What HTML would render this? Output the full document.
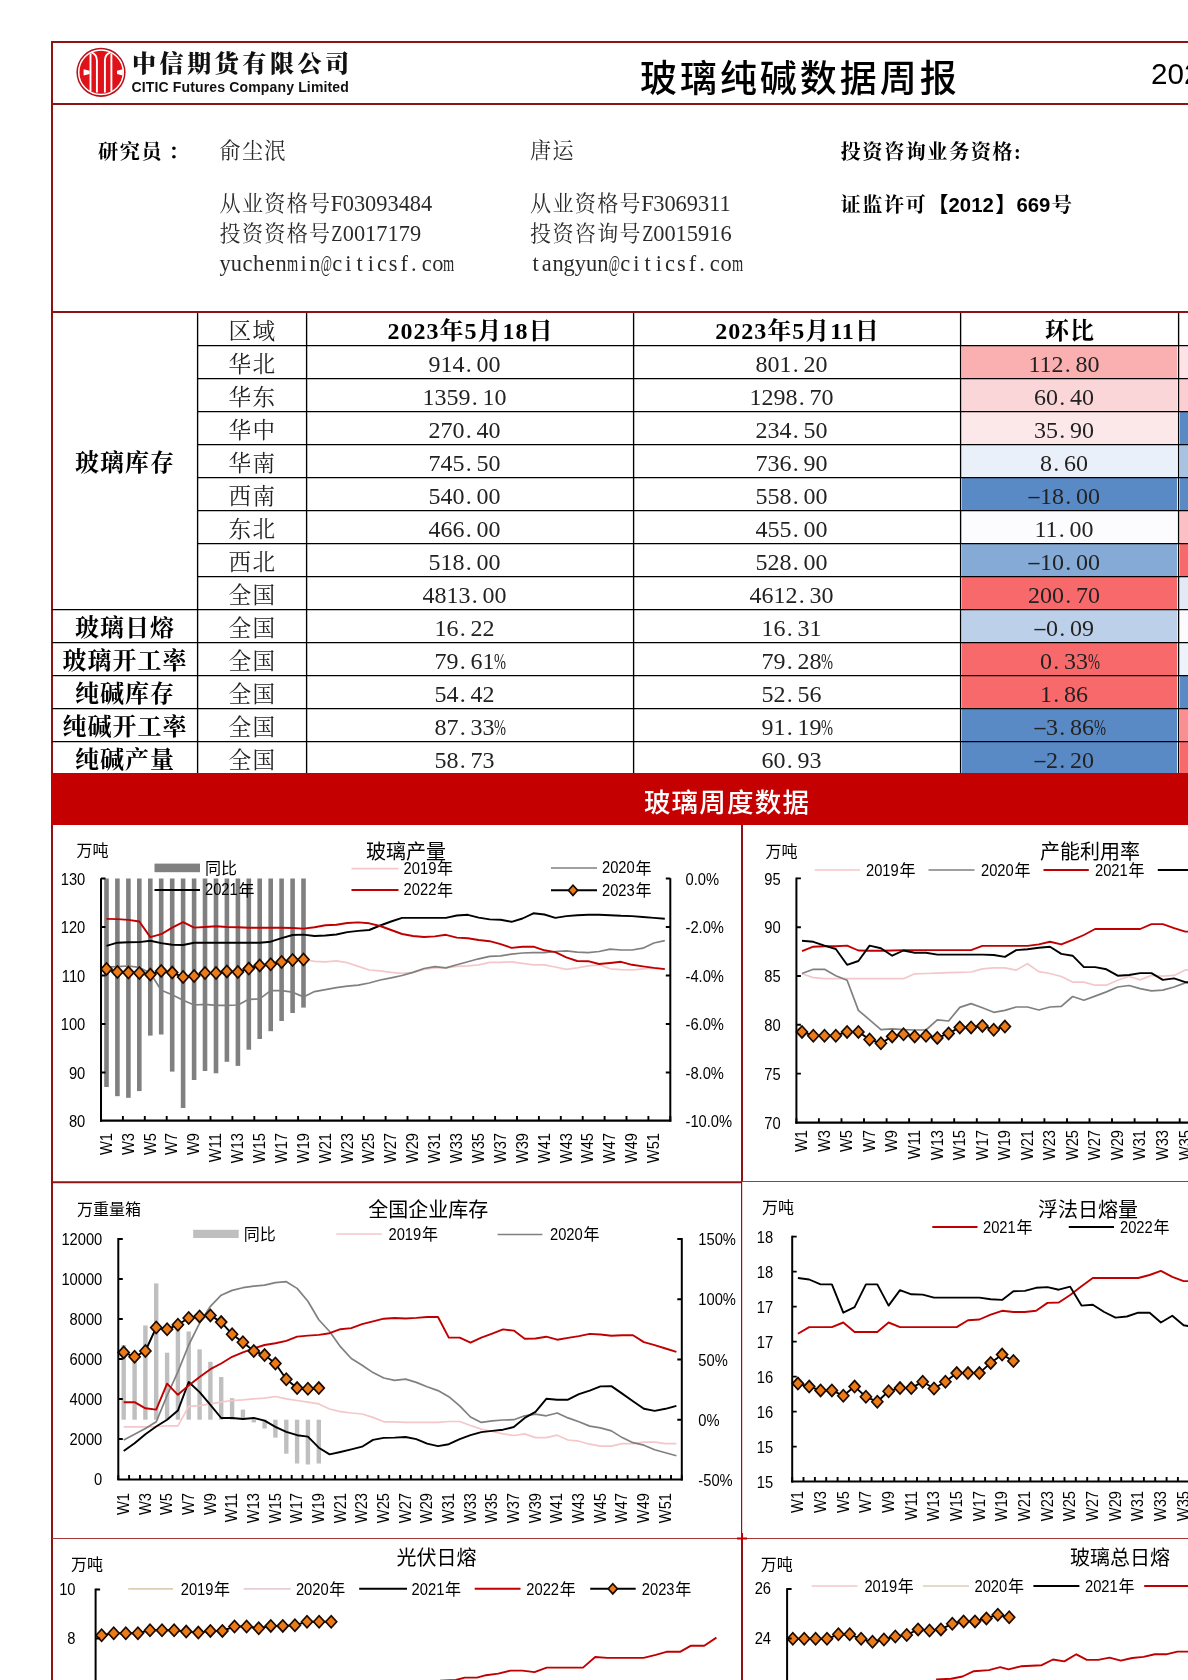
<!DOCTYPE html>
<html lang="zh-CN"><head><meta charset="utf-8"><title>玻璃纯碱数据周报</title>
<style>
html,body{margin:0;padding:0;background:#fff}
#page{will-change:transform;position:relative;width:1188px;height:1680px;overflow:hidden;background:#fff;font-family:"Liberation Serif","Noto Serif CJK SC",serif;color:#000}
.abs{position:absolute;white-space:nowrap}
.ln{position:absolute;background:#8E1414}
.bk{position:absolute;background:#000}
i{font-style:normal}
u{text-decoration:none}
.ir u,.tr u{font-size:.94em;letter-spacing:.064em;position:relative;top:-.01em}
i.sq{display:inline-block}
i.dp{margin:0 .2em 0 .05em}
i.mn{display:inline-block;margin:0 .0835em;transform:scale(1.8,.8)}
.cn{font-family:"Noto Serif CJK SC",serif;font-weight:900;font-size:24px;letter-spacing:3.6px;line-height:36px;color:#111}
.en{font-family:"Liberation Sans",sans-serif;font-weight:bold;font-size:14px;letter-spacing:0.15px;line-height:20px;color:#111}
.ttl{font-family:"Liberation Sans","Noto Sans CJK SC",sans-serif;font-size:37px;letter-spacing:2.95px;line-height:52px;color:#000;font-weight:500}
.dt{font-family:"Liberation Sans","Noto Sans CJK SC",sans-serif;font-size:29.6px;line-height:36px}
.ir{font-size:22.4px;line-height:30px;color:#2a2a2a;font-weight:400}
.ib{font-family:"Liberation Serif","Noto Serif CJK SC",serif;font-size:20.2px;line-height:30px;font-weight:700;color:#000;letter-spacing:1.5px}
.ab{font-family:"Liberation Sans",sans-serif;font-weight:bold;font-size:20.3px;letter-spacing:0;margin-right:1.5px}
.tr{font-size:24px;line-height:32px;text-align:center;color:#222}
.tb{font-size:24px;line-height:32px;text-align:center;font-weight:700;letter-spacing:1px;color:#000}
.bk2{font-family:"Noto Sans CJK SC",sans-serif;font-weight:700;letter-spacing:0;font-size:21.3px}
.bn{font-family:"Liberation Sans","Noto Sans CJK SC",sans-serif;font-weight:500;font-size:26.5px;letter-spacing:1.2px;line-height:36px;color:#fff;text-align:center}
svg text{font-family:"Liberation Sans","Noto Sans CJK SC",sans-serif}
</style></head>
<body><div id="page">
<div class="ln" style="left:51px;top:41px;width:1137px;height:2px"></div>
<div class="ln" style="left:51px;top:41px;width:2px;height:1639px"></div>
<div class="ln" style="left:51px;top:103px;width:1137px;height:2px"></div>
<div class="ln" style="left:51px;top:311px;width:1137px;height:2px"></div>
<svg class="abs" style="left:74px;top:45px" width="54" height="54" viewBox="74 45 54 54">
<circle cx="101" cy="72.3" r="24.6" fill="#B5121B"/><circle cx="101" cy="72.3" r="23" fill="#DE1218"/>
<circle cx="101" cy="72.3" r="22.3" fill="none" stroke="#fff" stroke-width="1.5"/>
<g fill="none" stroke="#fff" stroke-width="1.9">
<path d="M90.5 53.5V91.2"/><path d="M111.4 53.5V91.2"/>
<path d="M91.6 52.4Q96.9 54.5 96.9 60.5V92.6"/><path d="M110.2 52.4Q104.9 54.5 104.9 60.5V92.6"/>
</g>
<path d="M83.6 69.2L89.6 70.8V74L83.6 75.6Z" fill="#fff"/><path d="M122.8 69.2L117 70.8V74L122.8 75.6Z" fill="#fff"/>
</svg>
<div class="abs cn" style="left:132px;top:43.8px">中信期货有限公司</div>
<div class="abs en" style="left:131.5px;top:77px">CITIC Futures Company Limited</div>
<div class="abs ttl" style="left:640px;top:53.6px">玻璃纯碱数据周报</div>
<div class="abs dt" style="left:1151px;top:55.5px">2023</div>
<div class="abs ib" style="left:98px;top:136.7px">研究员<span style="margin-left:5.5px">：</span></div>
<div class="abs ir" style="left:219.5px;top:136px"><u>俞尘泯</u></div>
<div class="abs ir" style="left:219.5px;top:189px"><u>从业资格号</u><i style="margin:0 -0.0281em">F</i>03093484</div>
<div class="abs ir" style="left:219.5px;top:219px"><u>投资资格号</u><i class="sq" style="margin:0 -0.0554em;transform:scaleX(0.819)">Z</i>0017179</div>
<div class="abs ir" style="left:219.5px;top:249px"><i style="margin:0 0.0000em">y</i><i style="margin:0 0.0000em">u</i><i style="margin:0 0.0281em">c</i><i style="margin:0 0.0000em">h</i><i style="margin:0 0.0281em">e</i><i style="margin:0 0.0000em">n</i><i class="sq" style="margin:0 -0.1389em;transform:scaleX(0.643)">m</i><i style="margin:0 0.1111em">i</i><i style="margin:0 0.0000em">n</i><i class="sq" style="margin:0 -0.2105em;transform:scaleX(0.543)">@</i><i style="margin:0 0.0281em">c</i><i style="margin:0 0.1111em">i</i><i style="margin:0 0.1111em">t</i><i style="margin:0 0.1111em">i</i><i style="margin:0 0.0281em">c</i><i style="margin:0 0.0554em">s</i><i style="margin:0 0.0835em">f</i><i class="dp">.</i><i style="margin:0 0.0281em">c</i><i style="margin:0 0.0000em">o</i><i class="sq" style="margin:0 -0.1389em;transform:scaleX(0.643)">m</i></div>
<div class="abs ir" style="left:530px;top:136px"><u>唐运</u></div>
<div class="abs ir" style="left:530px;top:189px"><u>从业资格号</u><i style="margin:0 -0.0281em">F</i>3069311</div>
<div class="abs ir" style="left:530px;top:219px"><u>投资咨询号</u><i class="sq" style="margin:0 -0.0554em;transform:scaleX(0.819)">Z</i>0015916</div>
<div class="abs ir" style="left:530px;top:249px"><i style="margin:0 0.1111em">t</i><i style="margin:0 0.0281em">a</i><i style="margin:0 0.0000em">n</i><i style="margin:0 0.0000em">g</i><i style="margin:0 0.0000em">y</i><i style="margin:0 0.0000em">u</i><i style="margin:0 0.0000em">n</i><i class="sq" style="margin:0 -0.2105em;transform:scaleX(0.543)">@</i><i style="margin:0 0.0281em">c</i><i style="margin:0 0.1111em">i</i><i style="margin:0 0.1111em">t</i><i style="margin:0 0.1111em">i</i><i style="margin:0 0.0281em">c</i><i style="margin:0 0.0554em">s</i><i style="margin:0 0.0835em">f</i><i class="dp">.</i><i style="margin:0 0.0281em">c</i><i style="margin:0 0.0000em">o</i><i class="sq" style="margin:0 -0.1389em;transform:scaleX(0.643)">m</i></div>
<div class="abs ib" style="left:840.5px;top:136.7px">投资咨询业务资格:</div>
<div class="abs ib" style="left:840.5px;top:188px">证监许可<span class="bk2">【</span><span class="ab">2012</span><span class="bk2">】</span><span class="ab">669</span>号</div>
<div class="abs" style="left:962px;top:345.5px;width:215px;height:33.0px;background:#FAAFB1"></div>
<div class="abs" style="left:1180px;top:345.5px;width:8px;height:33.0px;background:#FDE3E5"></div>
<div class="abs" style="left:962px;top:378.5px;width:215px;height:33.0px;background:#FBD6D8"></div>
<div class="abs" style="left:1180px;top:378.5px;width:8px;height:33.0px;background:#FBCFD1"></div>
<div class="abs" style="left:962px;top:411.5px;width:215px;height:33.0px;background:#FCE7E9"></div>
<div class="abs" style="left:1180px;top:411.5px;width:8px;height:33.0px;background:#5A8AC6"></div>
<div class="abs" style="left:962px;top:444.5px;width:215px;height:33.0px;background:#EAF0F9"></div>
<div class="abs" style="left:1180px;top:444.5px;width:8px;height:33.0px;background:#A9C2E2"></div>
<div class="abs" style="left:962px;top:477.5px;width:215px;height:33.0px;background:#5A8AC6"></div>
<div class="abs" style="left:1180px;top:477.5px;width:8px;height:33.0px;background:#5A8AC6"></div>
<div class="abs" style="left:962px;top:510.5px;width:215px;height:33.0px;background:#FCFCFF"></div>
<div class="abs" style="left:1180px;top:510.5px;width:8px;height:33.0px;background:#FBC0C3"></div>
<div class="abs" style="left:962px;top:543.5px;width:215px;height:33.0px;background:#86AAD6"></div>
<div class="abs" style="left:1180px;top:543.5px;width:8px;height:33.0px;background:#F8696B"></div>
<div class="abs" style="left:962px;top:576.5px;width:215px;height:33.0px;background:#F8696B"></div>
<div class="abs" style="left:1180px;top:576.5px;width:8px;height:33.0px;background:#E3EAF6"></div>
<div class="abs" style="left:962px;top:609.5px;width:215px;height:33.0px;background:#BDD0E9"></div>
<div class="abs" style="left:1180px;top:609.5px;width:8px;height:33.0px;background:#FCFCFF"></div>
<div class="abs" style="left:962px;top:642.5px;width:215px;height:33.0px;background:#F8696B"></div>
<div class="abs" style="left:1180px;top:642.5px;width:8px;height:33.0px;background:#EEF2FA"></div>
<div class="abs" style="left:962px;top:675.5px;width:215px;height:33.0px;background:#F8696B"></div>
<div class="abs" style="left:1180px;top:675.5px;width:8px;height:33.0px;background:#5A8AC6"></div>
<div class="abs" style="left:962px;top:708.5px;width:215px;height:33.0px;background:#5A8AC6"></div>
<div class="abs" style="left:1180px;top:708.5px;width:8px;height:33.0px;background:#F98F91"></div>
<div class="abs" style="left:962px;top:741.5px;width:215px;height:33.0px;background:#5A8AC6"></div>
<div class="abs" style="left:1180px;top:741.5px;width:8px;height:33.0px;background:#F8696B"></div>
<svg class="abs" style="left:0;top:0" width="1188" height="800" viewBox="0 0 1188 800"><path d="M197.6 313V774M306.6 313V774M633.6 313V774M960.6 313V774M1178.6 313V774M197 345.65H1188M197 378.65H1188M197 411.65H1188M197 444.65H1188M197 477.65H1188M197 510.65H1188M197 543.65H1188M197 576.65H1188M52 609.65H1188M52 642.65H1188M52 675.65H1188M52 708.65H1188M52 741.65H1188" stroke="#000" stroke-width="1.35" fill="none"/></svg>
<div class="abs tb" style="left:52px;width:146px;top:446.5px">玻璃库存</div>
<div class="abs tb" style="left:52px;width:146px;top:611.5px">玻璃日熔</div>
<div class="abs tb" style="left:52px;width:146px;top:644.5px">玻璃开工率</div>
<div class="abs tb" style="left:52px;width:146px;top:677.5px">纯碱库存</div>
<div class="abs tb" style="left:52px;width:146px;top:710.5px">纯碱开工率</div>
<div class="abs tb" style="left:52px;width:146px;top:743.5px">纯碱产量</div>
<div class="abs tr" style="left:198px;width:109px;top:314.9px"><u>区域</u></div>
<div class="abs tb" style="left:307px;width:327px;top:314.5px">2023年5月18日</div>
<div class="abs tb" style="left:634px;width:327px;top:314.5px">2023年5月11日</div>
<div class="abs tb" style="left:961px;width:218px;top:314.5px">环比</div>
<div class="abs tr" style="left:198px;width:109px;top:347.9px"><u>华北</u></div>
<div class="abs tr" style="left:301px;width:327px;top:347.5px">914<i class="dp">.</i>00</div>
<div class="abs tr" style="left:628px;width:327px;top:347.5px">801<i class="dp">.</i>20</div>
<div class="abs tr" style="left:955px;width:218px;top:347.5px">112<i class="dp">.</i>80</div>
<div class="abs tr" style="left:198px;width:109px;top:380.9px"><u>华东</u></div>
<div class="abs tr" style="left:301px;width:327px;top:380.5px">1359<i class="dp">.</i>10</div>
<div class="abs tr" style="left:628px;width:327px;top:380.5px">1298<i class="dp">.</i>70</div>
<div class="abs tr" style="left:955px;width:218px;top:380.5px">60<i class="dp">.</i>40</div>
<div class="abs tr" style="left:198px;width:109px;top:413.9px"><u>华中</u></div>
<div class="abs tr" style="left:301px;width:327px;top:413.5px">270<i class="dp">.</i>40</div>
<div class="abs tr" style="left:628px;width:327px;top:413.5px">234<i class="dp">.</i>50</div>
<div class="abs tr" style="left:955px;width:218px;top:413.5px">35<i class="dp">.</i>90</div>
<div class="abs tr" style="left:198px;width:109px;top:446.9px"><u>华南</u></div>
<div class="abs tr" style="left:301px;width:327px;top:446.5px">745<i class="dp">.</i>50</div>
<div class="abs tr" style="left:628px;width:327px;top:446.5px">736<i class="dp">.</i>90</div>
<div class="abs tr" style="left:955px;width:218px;top:446.5px">8<i class="dp">.</i>60</div>
<div class="abs tr" style="left:198px;width:109px;top:479.9px"><u>西南</u></div>
<div class="abs tr" style="left:301px;width:327px;top:479.5px">540<i class="dp">.</i>00</div>
<div class="abs tr" style="left:628px;width:327px;top:479.5px">558<i class="dp">.</i>00</div>
<div class="abs tr" style="left:955px;width:218px;top:479.5px"><i class="mn">-</i>18<i class="dp">.</i>00</div>
<div class="abs tr" style="left:198px;width:109px;top:512.9px"><u>东北</u></div>
<div class="abs tr" style="left:301px;width:327px;top:512.5px">466<i class="dp">.</i>00</div>
<div class="abs tr" style="left:628px;width:327px;top:512.5px">455<i class="dp">.</i>00</div>
<div class="abs tr" style="left:955px;width:218px;top:512.5px">11<i class="dp">.</i>00</div>
<div class="abs tr" style="left:198px;width:109px;top:545.9px"><u>西北</u></div>
<div class="abs tr" style="left:301px;width:327px;top:545.5px">518<i class="dp">.</i>00</div>
<div class="abs tr" style="left:628px;width:327px;top:545.5px">528<i class="dp">.</i>00</div>
<div class="abs tr" style="left:955px;width:218px;top:545.5px"><i class="mn">-</i>10<i class="dp">.</i>00</div>
<div class="abs tr" style="left:198px;width:109px;top:578.9px"><u>全国</u></div>
<div class="abs tr" style="left:301px;width:327px;top:578.5px">4813<i class="dp">.</i>00</div>
<div class="abs tr" style="left:628px;width:327px;top:578.5px">4612<i class="dp">.</i>30</div>
<div class="abs tr" style="left:955px;width:218px;top:578.5px">200<i class="dp">.</i>70</div>
<div class="abs tr" style="left:198px;width:109px;top:611.9px"><u>全国</u></div>
<div class="abs tr" style="left:301px;width:327px;top:611.5px">16<i class="dp">.</i>22</div>
<div class="abs tr" style="left:628px;width:327px;top:611.5px">16<i class="dp">.</i>31</div>
<div class="abs tr" style="left:955px;width:218px;top:611.5px"><i class="mn">-</i>0<i class="dp">.</i>09</div>
<div class="abs tr" style="left:198px;width:109px;top:644.9px"><u>全国</u></div>
<div class="abs tr" style="left:307px;width:327px;top:644.5px">79<i class="dp">.</i>61<i class="sq" style="margin:0 -0.1665em;transform:scaleX(0.600)">%</i></div>
<div class="abs tr" style="left:634px;width:327px;top:644.5px">79<i class="dp">.</i>28<i class="sq" style="margin:0 -0.1665em;transform:scaleX(0.600)">%</i></div>
<div class="abs tr" style="left:961px;width:218px;top:644.5px">0<i class="dp">.</i>33<i class="sq" style="margin:0 -0.1665em;transform:scaleX(0.600)">%</i></div>
<div class="abs tr" style="left:198px;width:109px;top:677.9px"><u>全国</u></div>
<div class="abs tr" style="left:301px;width:327px;top:677.5px">54<i class="dp">.</i>42</div>
<div class="abs tr" style="left:628px;width:327px;top:677.5px">52<i class="dp">.</i>56</div>
<div class="abs tr" style="left:955px;width:218px;top:677.5px">1<i class="dp">.</i>86</div>
<div class="abs tr" style="left:198px;width:109px;top:710.9px"><u>全国</u></div>
<div class="abs tr" style="left:307px;width:327px;top:710.5px">87<i class="dp">.</i>33<i class="sq" style="margin:0 -0.1665em;transform:scaleX(0.600)">%</i></div>
<div class="abs tr" style="left:634px;width:327px;top:710.5px">91<i class="dp">.</i>19<i class="sq" style="margin:0 -0.1665em;transform:scaleX(0.600)">%</i></div>
<div class="abs tr" style="left:961px;width:218px;top:710.5px"><i class="mn">-</i>3<i class="dp">.</i>86<i class="sq" style="margin:0 -0.1665em;transform:scaleX(0.600)">%</i></div>
<div class="abs tr" style="left:198px;width:109px;top:743.9px"><u>全国</u></div>
<div class="abs tr" style="left:301px;width:327px;top:743.5px">58<i class="dp">.</i>73</div>
<div class="abs tr" style="left:628px;width:327px;top:743.5px">60<i class="dp">.</i>93</div>
<div class="abs tr" style="left:955px;width:218px;top:743.5px"><i class="mn">-</i>2<i class="dp">.</i>20</div>
<div class="abs" style="left:51px;top:773px;width:1137px;height:52px;background:#C50000"></div>
<div class="abs bn" style="left:54px;width:1346px;top:785.3px">玻璃周度数据</div>
<svg class="abs" style="left:0;top:0" width="1188" height="1680" viewBox="0 0 1188 1680">
<path d="M742 825V1181.5" stroke="#8E1414" stroke-width="2"/>
<path d="M741.6 1181V1538" stroke="#8E1414" stroke-width="1.2"/>
<path d="M742 1538V1680" stroke="#8E1414" stroke-width="2"/>
<path d="M52 1182.2H742" stroke="#8E1414" stroke-width="1.9"/>
<path d="M742 1181.5H1188" stroke="#A83838" stroke-width="1.2"/>
<path d="M52 1538.5H1188" stroke="#A83838" stroke-width="1.2"/>
<path d="M737 1538.5H747M742 1533V1544" stroke="#C00000" stroke-width="2"/>
<g fill="#808080"><rect x="104.2" y="878.5" width="4.6" height="208.5"/><rect x="115.1" y="878.5" width="4.6" height="217.7"/><rect x="126.1" y="878.5" width="4.6" height="219.3"/><rect x="137.0" y="878.5" width="4.6" height="212.6"/><rect x="148.0" y="878.5" width="4.6" height="157.1"/><rect x="158.9" y="878.5" width="4.6" height="156.0"/><rect x="169.9" y="878.5" width="4.6" height="193.1"/><rect x="180.8" y="878.5" width="4.6" height="229.5"/><rect x="191.8" y="878.5" width="4.6" height="201.5"/><rect x="202.7" y="878.5" width="4.6" height="192.5"/><rect x="213.7" y="878.5" width="4.6" height="194.8"/><rect x="224.6" y="878.5" width="4.6" height="183.3"/><rect x="235.6" y="878.5" width="4.6" height="187.4"/><rect x="246.5" y="878.5" width="4.6" height="171.2"/><rect x="257.4" y="878.5" width="4.6" height="160.5"/><rect x="268.4" y="878.5" width="4.6" height="152.7"/><rect x="279.3" y="878.5" width="4.6" height="142.5"/><rect x="290.3" y="878.5" width="4.6" height="134.5"/><rect x="301.2" y="878.5" width="4.6" height="129.1"/></g>
<polyline points="106.5,969.0 117.4,972.0 128.4,972.6 139.3,973.0 150.3,974.6 161.2,971.0 172.2,972.6 183.1,977.0 194.1,976.0 205.0,973.0 216.0,973.0 226.9,971.4 237.9,972.0 248.8,968.6 259.7,965.4 270.7,964.3 281.6,962.0 292.6,960.0 303.5,959.5 314.5,961.3 325.4,961.8 336.4,960.9 347.3,962.7 358.3,966.4 369.2,970.0 380.2,970.9 391.1,972.4 402.1,973.3 413.0,972.4 424.0,969.4 434.9,967.9 445.9,967.9 456.8,966.4 467.8,965.8 478.7,964.8 489.7,962.4 500.6,962.4 511.6,961.8 522.5,963.3 533.4,964.8 544.4,964.8 555.3,967.0 566.3,969.4 577.2,967.9 588.2,965.8 599.1,964.8 610.1,968.8 621.0,969.7 632.0,970.0 642.9,968.8 653.9,968.2 664.8,968.8" fill="none" stroke="#F4C7C9" stroke-width="1.70" stroke-linejoin="round"/>
<polyline points="106.5,967.0 117.4,966.6 128.4,966.0 139.3,967.4 150.3,973.0 161.2,990.2 172.2,994.8 183.1,1000.3 194.1,1005.0 205.0,1004.3 216.0,1005.4 226.9,1005.4 237.9,1005.0 248.8,999.3 259.7,998.9 270.7,990.6 281.6,990.6 292.6,992.2 303.5,996.9 314.5,991.6 325.4,989.7 336.4,987.6 347.3,986.1 358.3,985.2 369.2,983.0 380.2,980.0 391.1,977.9 402.1,975.5 413.0,972.4 424.0,968.5 434.9,966.7 445.9,967.9 456.8,964.8 467.8,961.8 478.7,958.8 489.7,956.4 500.6,955.8 511.6,954.2 522.5,953.0 533.4,952.7 544.4,952.7 555.3,951.5 566.3,950.9 577.2,952.1 588.2,952.7 599.1,951.5 610.1,949.1 621.0,950.0 632.0,950.0 642.9,948.2 653.9,943.0 664.8,940.6" fill="none" stroke="#808080" stroke-width="1.70" stroke-linejoin="round"/>
<polyline points="106.5,945.8 117.4,942.7 128.4,942.3 139.3,942.1 150.3,940.7 161.2,943.1 172.2,944.7 183.1,945.0 194.1,942.7 205.0,942.7 216.0,942.7 226.9,942.7 237.9,942.7 248.8,942.7 259.7,942.7 270.7,941.7 281.6,938.1 292.6,935.0 303.5,934.6 314.5,936.0 325.4,935.5 336.4,934.5 347.3,932.1 358.3,930.9 369.2,930.0 380.2,925.5 391.1,921.5 402.1,917.9 413.0,917.9 424.0,917.9 434.9,917.9 445.9,917.9 456.8,915.5 467.8,914.8 478.7,917.6 489.7,919.4 500.6,919.7 511.6,921.8 522.5,918.5 533.4,913.3 544.4,914.5 555.3,917.9 566.3,916.1 577.2,915.2 588.2,914.8 599.1,914.8 610.1,915.2 621.0,915.8 632.0,916.1 642.9,917.0 653.9,917.9 664.8,918.8" fill="none" stroke="#000" stroke-width="1.90" stroke-linejoin="round"/>
<polyline points="106.5,918.9 117.4,919.1 128.4,919.9 139.3,921.5 150.3,937.1 161.2,934.2 172.2,927.6 183.1,922.1 194.1,927.6 205.0,927.0 216.0,926.2 226.9,927.0 237.9,927.2 248.8,927.8 259.7,927.8 270.7,927.8 281.6,927.8 292.6,928.0 303.5,928.6 314.5,927.2 325.4,925.3 336.4,924.8 347.3,923.0 358.3,922.4 369.2,923.3 380.2,926.0 391.1,930.0 402.1,934.0 413.0,936.0 424.0,937.0 434.9,936.4 445.9,934.8 456.8,937.6 467.8,938.2 478.7,940.0 489.7,941.2 500.6,944.2 511.6,947.9 522.5,946.7 533.4,946.7 544.4,950.3 555.3,952.1 566.3,957.3 577.2,961.0 588.2,961.2 599.1,964.0 610.1,963.0 621.0,961.8 632.0,964.8 642.9,966.4 653.9,967.9 664.8,969.1" fill="none" stroke="#C00000" stroke-width="1.90" stroke-linejoin="round"/>
<polyline points="106.5,969.0 117.4,972.0 128.4,972.6 139.3,973.0 150.3,974.6 161.2,971.0 172.2,972.6 183.1,977.0 194.1,976.0 205.0,973.0 216.0,973.0 226.9,971.4 237.9,972.0 248.8,968.6 259.7,965.4 270.7,964.3 281.6,962.0 292.6,960.0 303.5,959.5" fill="none" stroke="#000" stroke-width="1.90" stroke-linejoin="round"/>
<g fill="#EB7B19" stroke="#1a0a00" stroke-width="1.7" stroke-linejoin="miter"><path d="M101.0 969.0L106.5 963.0L112.0 969.0L106.5 975.0Z"/><path d="M111.9 972.0L117.4 966.0L122.9 972.0L117.4 978.0Z"/><path d="M122.9 972.6L128.4 966.6L133.9 972.6L128.4 978.6Z"/><path d="M133.8 973.0L139.3 967.0L144.8 973.0L139.3 979.0Z"/><path d="M144.8 974.6L150.3 968.6L155.8 974.6L150.3 980.6Z"/><path d="M155.7 971.0L161.2 965.0L166.7 971.0L161.2 977.0Z"/><path d="M166.7 972.6L172.2 966.6L177.7 972.6L172.2 978.6Z"/><path d="M177.6 977.0L183.1 971.0L188.6 977.0L183.1 983.0Z"/><path d="M188.6 976.0L194.1 970.0L199.6 976.0L194.1 982.0Z"/><path d="M199.5 973.0L205.0 967.0L210.5 973.0L205.0 979.0Z"/><path d="M210.5 973.0L216.0 967.0L221.5 973.0L216.0 979.0Z"/><path d="M221.4 971.4L226.9 965.4L232.4 971.4L226.9 977.4Z"/><path d="M232.4 972.0L237.9 966.0L243.4 972.0L237.9 978.0Z"/><path d="M243.3 968.6L248.8 962.6L254.3 968.6L248.8 974.6Z"/><path d="M254.2 965.4L259.7 959.4L265.2 965.4L259.7 971.4Z"/><path d="M265.2 964.3L270.7 958.3L276.2 964.3L270.7 970.3Z"/><path d="M276.1 962.0L281.6 956.0L287.1 962.0L281.6 968.0Z"/><path d="M287.1 960.0L292.6 954.0L298.1 960.0L292.6 966.0Z"/><path d="M298.0 959.5L303.5 953.5L309.0 959.5L303.5 965.5Z"/></g>
<path d="M101.0 878.2L101.0 1121.7" stroke="#000" stroke-width="2.00" fill="none"/>
<path d="M100.0 1120.6L671.3 1120.6" stroke="#000" stroke-width="2.30" fill="none"/>
<path d="M670.3 878.2L670.3 1121.7" stroke="#000" stroke-width="2.00" fill="none"/>
<path d="M101.0 878.5h4.5M101.0 927.0h4.5M101.0 975.5h4.5M101.0 1024.0h4.5M101.0 1072.5h4.5" stroke="#000" stroke-width="1.9" fill="none"/>
<path d="M670.3 878.5h-4.5M670.3 927.0h-4.5M670.3 975.5h-4.5M670.3 1024.0h-4.5M670.3 1072.5h-4.5" stroke="#000" stroke-width="1.9" fill="none"/>
<path d="M101.0 1120.6v-4.5M122.9 1120.6v-4.5M144.8 1120.6v-4.5M166.7 1120.6v-4.5M188.6 1120.6v-4.5M210.5 1120.6v-4.5M232.4 1120.6v-4.5M254.3 1120.6v-4.5M276.2 1120.6v-4.5M298.1 1120.6v-4.5M320.0 1120.6v-4.5M341.9 1120.6v-4.5M363.8 1120.6v-4.5M385.6 1120.6v-4.5M407.5 1120.6v-4.5M429.4 1120.6v-4.5M451.3 1120.6v-4.5M473.2 1120.6v-4.5M495.1 1120.6v-4.5M517.0 1120.6v-4.5M538.9 1120.6v-4.5M560.8 1120.6v-4.5M582.7 1120.6v-4.5M604.6 1120.6v-4.5M626.5 1120.6v-4.5M648.4 1120.6v-4.5M670.3 1120.6v-4.5" stroke="#000" stroke-width="1.9" fill="none"/>
<text transform="translate(85.3 884.7) scale(0.92 1)" font-size="16.0" text-anchor="end" fill="#000">130</text>
<text transform="translate(85.3 933.2) scale(0.92 1)" font-size="16.0" text-anchor="end" fill="#000">120</text>
<text transform="translate(85.3 981.7) scale(0.92 1)" font-size="16.0" text-anchor="end" fill="#000">110</text>
<text transform="translate(85.3 1030.2) scale(0.92 1)" font-size="16.0" text-anchor="end" fill="#000">100</text>
<text transform="translate(85.3 1078.7) scale(0.92 1)" font-size="16.0" text-anchor="end" fill="#000">90</text>
<text transform="translate(85.3 1127.2) scale(0.92 1)" font-size="16.0" text-anchor="end" fill="#000">80</text>
<text transform="translate(685.5 884.7) scale(0.92 1)" font-size="16.0" text-anchor="start" fill="#000">0.0%</text>
<text transform="translate(685.5 933.2) scale(0.92 1)" font-size="16.0" text-anchor="start" fill="#000">-2.0%</text>
<text transform="translate(685.5 981.7) scale(0.92 1)" font-size="16.0" text-anchor="start" fill="#000">-4.0%</text>
<text transform="translate(685.5 1030.2) scale(0.92 1)" font-size="16.0" text-anchor="start" fill="#000">-6.0%</text>
<text transform="translate(685.5 1078.7) scale(0.92 1)" font-size="16.0" text-anchor="start" fill="#000">-8.0%</text>
<text transform="translate(685.5 1127.2) scale(0.92 1)" font-size="16.0" text-anchor="start" fill="#000">-10.0%</text>
<text transform="translate(111.7 1133.0) rotate(-90) scale(0.92 1)" font-size="16.0" text-anchor="end" fill="#000">W1</text><text transform="translate(133.6 1133.0) rotate(-90) scale(0.92 1)" font-size="16.0" text-anchor="end" fill="#000">W3</text><text transform="translate(155.5 1133.0) rotate(-90) scale(0.92 1)" font-size="16.0" text-anchor="end" fill="#000">W5</text><text transform="translate(177.4 1133.0) rotate(-90) scale(0.92 1)" font-size="16.0" text-anchor="end" fill="#000">W7</text><text transform="translate(199.3 1133.0) rotate(-90) scale(0.92 1)" font-size="16.0" text-anchor="end" fill="#000">W9</text><text transform="translate(221.2 1133.0) rotate(-90) scale(0.92 1)" font-size="16.0" text-anchor="end" fill="#000">W11</text><text transform="translate(243.1 1133.0) rotate(-90) scale(0.92 1)" font-size="16.0" text-anchor="end" fill="#000">W13</text><text transform="translate(264.9 1133.0) rotate(-90) scale(0.92 1)" font-size="16.0" text-anchor="end" fill="#000">W15</text><text transform="translate(286.8 1133.0) rotate(-90) scale(0.92 1)" font-size="16.0" text-anchor="end" fill="#000">W17</text><text transform="translate(308.7 1133.0) rotate(-90) scale(0.92 1)" font-size="16.0" text-anchor="end" fill="#000">W19</text><text transform="translate(330.6 1133.0) rotate(-90) scale(0.92 1)" font-size="16.0" text-anchor="end" fill="#000">W21</text><text transform="translate(352.5 1133.0) rotate(-90) scale(0.92 1)" font-size="16.0" text-anchor="end" fill="#000">W23</text><text transform="translate(374.4 1133.0) rotate(-90) scale(0.92 1)" font-size="16.0" text-anchor="end" fill="#000">W25</text><text transform="translate(396.3 1133.0) rotate(-90) scale(0.92 1)" font-size="16.0" text-anchor="end" fill="#000">W27</text><text transform="translate(418.2 1133.0) rotate(-90) scale(0.92 1)" font-size="16.0" text-anchor="end" fill="#000">W29</text><text transform="translate(440.1 1133.0) rotate(-90) scale(0.92 1)" font-size="16.0" text-anchor="end" fill="#000">W31</text><text transform="translate(462.0 1133.0) rotate(-90) scale(0.92 1)" font-size="16.0" text-anchor="end" fill="#000">W33</text><text transform="translate(483.9 1133.0) rotate(-90) scale(0.92 1)" font-size="16.0" text-anchor="end" fill="#000">W35</text><text transform="translate(505.8 1133.0) rotate(-90) scale(0.92 1)" font-size="16.0" text-anchor="end" fill="#000">W37</text><text transform="translate(527.7 1133.0) rotate(-90) scale(0.92 1)" font-size="16.0" text-anchor="end" fill="#000">W39</text><text transform="translate(549.6 1133.0) rotate(-90) scale(0.92 1)" font-size="16.0" text-anchor="end" fill="#000">W41</text><text transform="translate(571.5 1133.0) rotate(-90) scale(0.92 1)" font-size="16.0" text-anchor="end" fill="#000">W43</text><text transform="translate(593.4 1133.0) rotate(-90) scale(0.92 1)" font-size="16.0" text-anchor="end" fill="#000">W45</text><text transform="translate(615.3 1133.0) rotate(-90) scale(0.92 1)" font-size="16.0" text-anchor="end" fill="#000">W47</text><text transform="translate(637.2 1133.0) rotate(-90) scale(0.92 1)" font-size="16.0" text-anchor="end" fill="#000">W49</text><text transform="translate(659.1 1133.0) rotate(-90) scale(0.92 1)" font-size="16.0" text-anchor="end" fill="#000">W51</text>
<text x="76.5" y="856.0" font-size="16.0" text-anchor="start" fill="#000">万吨</text>
<text x="366.0" y="859.0" font-size="20.0" text-anchor="start" fill="#000">玻璃产量</text>
<rect x="154.5" y="863.6" width="45.5" height="8.6" fill="#808080"/>
<text x="205.0" y="874.3" font-size="16.0" text-anchor="start" fill="#000">同比</text>
<path d="M154.5 890.0L200.0 890.0" stroke="#000" stroke-width="1.90" fill="none"/>
<text transform="translate(205.0 895.3) scale(0.92 1)" font-size="16.0" text-anchor="start" fill="#000">2021</text><text x="238.4" y="895.6" font-size="16.0" fill="#000">年</text>
<path d="M351.5 868.6L398.5 868.6" stroke="#F4C7C9" stroke-width="1.70" fill="none"/>
<text transform="translate(403.6 874.0) scale(0.92 1)" font-size="16.0" text-anchor="start" fill="#000">2019</text><text x="437.0" y="874.3" font-size="16.0" fill="#000">年</text>
<path d="M351.5 890.0L398.5 890.0" stroke="#C00000" stroke-width="1.90" fill="none"/>
<text transform="translate(403.6 895.3) scale(0.92 1)" font-size="16.0" text-anchor="start" fill="#000">2022</text><text x="437.0" y="895.6" font-size="16.0" fill="#000">年</text>
<path d="M551.0 868.0L597.0 868.0" stroke="#808080" stroke-width="1.70" fill="none"/>
<text transform="translate(602.0 873.3) scale(0.92 1)" font-size="16.0" text-anchor="start" fill="#000">2020</text><text x="635.4" y="873.6" font-size="16.0" fill="#000">年</text>
<path d="M551.0 890.3L597.0 890.3" stroke="#000" stroke-width="1.90" fill="none"/>
<g fill="#EB7B19" stroke="#1a0a00" stroke-width="1.7" stroke-linejoin="miter"><path d="M568.4 890.3L573.0 885.2L577.6 890.3L573.0 895.4Z"/></g>
<text transform="translate(602.0 895.6) scale(0.92 1)" font-size="16.0" text-anchor="start" fill="#000">2023</text><text x="635.4" y="895.9" font-size="16.0" fill="#000">年</text>
<polyline points="802.0,973.8 813.3,977.6 824.5,978.7 835.8,978.7 847.1,978.7 858.4,978.7 869.6,978.7 880.9,978.7 892.2,978.7 903.5,978.7 914.7,973.8 926.0,973.5 937.3,973.1 948.6,972.7 959.8,972.3 971.1,972.0 982.4,968.9 993.7,967.8 1004.9,967.8 1016.2,970.1 1027.5,963.7 1038.8,971.6 1050.0,973.5 1061.3,976.5 1072.6,982.1 1083.9,982.1 1095.1,985.2 1106.4,985.2 1117.7,980.3 1129.0,976.5 1140.2,979.9 1151.5,975.4 1162.8,976.1 1174.1,975.4 1185.3,970.1 1196.6,969.3" fill="none" stroke="#F4C7C9" stroke-width="1.70" stroke-linejoin="round"/>
<polyline points="802.0,973.5 813.3,969.3 824.5,969.3 835.8,975.7 847.1,980.3 858.4,1010.4 869.6,1019.8 880.9,1029.7 892.2,1028.9 903.5,1029.7 914.7,1030.0 926.0,1030.0 937.3,1019.8 948.6,1021.0 959.8,1007.4 971.1,1003.6 982.4,1007.8 993.7,1012.3 1004.9,1010.4 1016.2,1007.0 1027.5,1007.0 1038.8,1010.0 1050.0,1007.0 1061.3,1006.3 1072.6,996.5 1083.9,1000.2 1095.1,996.1 1106.4,991.9 1117.7,987.0 1129.0,985.5 1140.2,988.6 1151.5,990.8 1162.8,990.1 1174.1,987.0 1185.3,982.9 1196.6,981.4" fill="none" stroke="#808080" stroke-width="1.70" stroke-linejoin="round"/>
<polyline points="802.0,951.2 813.3,946.7 824.5,946.3 835.8,946.3 847.1,945.6 858.4,950.5 869.6,950.8 880.9,950.8 892.2,950.5 903.5,950.1 914.7,950.1 926.0,950.1 937.3,950.1 948.6,950.1 959.8,950.1 971.1,950.1 982.4,945.9 993.7,945.9 1004.9,945.9 1016.2,945.9 1027.5,945.9 1038.8,944.4 1050.0,941.8 1061.3,944.4 1072.6,939.9 1083.9,935.0 1095.1,929.0 1106.4,929.0 1117.7,929.0 1129.0,929.0 1140.2,929.0 1151.5,924.1 1162.8,924.1 1174.1,928.2 1185.3,931.6 1196.6,931.6" fill="none" stroke="#C00000" stroke-width="1.90" stroke-linejoin="round"/>
<polyline points="802.0,940.7 813.3,941.8 824.5,945.6 835.8,949.0 847.1,964.8 858.4,961.0 869.6,945.6 880.9,948.2 892.2,955.7 903.5,950.5 914.7,952.7 926.0,952.7 937.3,954.6 948.6,954.6 959.8,954.6 971.1,954.6 982.4,954.6 993.7,955.0 1004.9,956.9 1016.2,950.1 1027.5,949.3 1038.8,947.8 1050.0,946.7 1061.3,953.9 1072.6,955.7 1083.9,967.1 1095.1,967.1 1106.4,969.3 1117.7,975.7 1129.0,975.0 1140.2,973.1 1151.5,973.1 1162.8,979.9 1174.1,978.4 1185.3,982.1 1196.6,982.9" fill="none" stroke="#000" stroke-width="1.90" stroke-linejoin="round"/>
<polyline points="802.0,1031.9 813.3,1035.7 824.5,1035.7 835.8,1035.7 847.1,1031.9 858.4,1031.9 869.6,1039.5 880.9,1043.2 892.2,1036.4 903.5,1034.2 914.7,1036.4 926.0,1035.7 937.3,1037.9 948.6,1033.4 959.8,1027.4 971.1,1027.4 982.4,1025.9 993.7,1029.7 1004.9,1026.6" fill="none" stroke="#000" stroke-width="1.90" stroke-linejoin="round"/>
<g fill="#EB7B19" stroke="#1a0a00" stroke-width="1.7" stroke-linejoin="miter"><path d="M796.5 1031.9L802.0 1025.9L807.5 1031.9L802.0 1037.9Z"/><path d="M807.8 1035.7L813.3 1029.7L818.8 1035.7L813.3 1041.7Z"/><path d="M819.0 1035.7L824.5 1029.7L830.0 1035.7L824.5 1041.7Z"/><path d="M830.3 1035.7L835.8 1029.7L841.3 1035.7L835.8 1041.7Z"/><path d="M841.6 1031.9L847.1 1025.9L852.6 1031.9L847.1 1037.9Z"/><path d="M852.9 1031.9L858.4 1025.9L863.9 1031.9L858.4 1037.9Z"/><path d="M864.1 1039.5L869.6 1033.5L875.1 1039.5L869.6 1045.5Z"/><path d="M875.4 1043.2L880.9 1037.2L886.4 1043.2L880.9 1049.2Z"/><path d="M886.7 1036.4L892.2 1030.4L897.7 1036.4L892.2 1042.4Z"/><path d="M898.0 1034.2L903.5 1028.2L909.0 1034.2L903.5 1040.2Z"/><path d="M909.2 1036.4L914.7 1030.4L920.2 1036.4L914.7 1042.4Z"/><path d="M920.5 1035.7L926.0 1029.7L931.5 1035.7L926.0 1041.7Z"/><path d="M931.8 1037.9L937.3 1031.9L942.8 1037.9L937.3 1043.9Z"/><path d="M943.1 1033.4L948.6 1027.4L954.1 1033.4L948.6 1039.4Z"/><path d="M954.3 1027.4L959.8 1021.4L965.3 1027.4L959.8 1033.4Z"/><path d="M965.6 1027.4L971.1 1021.4L976.6 1027.4L971.1 1033.4Z"/><path d="M976.9 1025.9L982.4 1019.9L987.9 1025.9L982.4 1031.9Z"/><path d="M988.2 1029.7L993.7 1023.7L999.2 1029.7L993.7 1035.7Z"/><path d="M999.4 1026.6L1004.9 1020.6L1010.4 1026.6L1004.9 1032.6Z"/></g>
<path d="M796.4 877.6L796.4 1123.8" stroke="#000" stroke-width="2.00" fill="none"/>
<path d="M795.4 1122.7L1188.0 1122.7" stroke="#000" stroke-width="2.30" fill="none"/>
<path d="M796.4 878.4h4.5M796.4 927.2h4.5M796.4 976.0h4.5M796.4 1024.8h4.5M796.4 1073.6h4.5" stroke="#000" stroke-width="1.9" fill="none"/>
<path d="M796.4 1122.7v-4.5M818.9 1122.7v-4.5M841.5 1122.7v-4.5M864.0 1122.7v-4.5M886.6 1122.7v-4.5M909.1 1122.7v-4.5M931.7 1122.7v-4.5M954.2 1122.7v-4.5M976.8 1122.7v-4.5M999.3 1122.7v-4.5M1021.9 1122.7v-4.5M1044.4 1122.7v-4.5M1067.0 1122.7v-4.5M1089.5 1122.7v-4.5M1112.0 1122.7v-4.5M1134.6 1122.7v-4.5M1157.2 1122.7v-4.5M1179.7 1122.7v-4.5M1202.2 1122.7v-4.5" stroke="#000" stroke-width="1.9" fill="none"/>
<text transform="translate(780.7 884.6) scale(0.92 1)" font-size="16.0" text-anchor="end" fill="#000">95</text>
<text transform="translate(780.7 933.4) scale(0.92 1)" font-size="16.0" text-anchor="end" fill="#000">90</text>
<text transform="translate(780.7 982.2) scale(0.92 1)" font-size="16.0" text-anchor="end" fill="#000">85</text>
<text transform="translate(780.7 1031.0) scale(0.92 1)" font-size="16.0" text-anchor="end" fill="#000">80</text>
<text transform="translate(780.7 1079.8) scale(0.92 1)" font-size="16.0" text-anchor="end" fill="#000">75</text>
<text transform="translate(780.7 1128.6) scale(0.92 1)" font-size="16.0" text-anchor="end" fill="#000">70</text>
<text transform="translate(807.2 1130.0) rotate(-90) scale(0.92 1)" font-size="16.0" text-anchor="end" fill="#000">W1</text><text transform="translate(829.7 1130.0) rotate(-90) scale(0.92 1)" font-size="16.0" text-anchor="end" fill="#000">W3</text><text transform="translate(852.3 1130.0) rotate(-90) scale(0.92 1)" font-size="16.0" text-anchor="end" fill="#000">W5</text><text transform="translate(874.8 1130.0) rotate(-90) scale(0.92 1)" font-size="16.0" text-anchor="end" fill="#000">W7</text><text transform="translate(897.4 1130.0) rotate(-90) scale(0.92 1)" font-size="16.0" text-anchor="end" fill="#000">W9</text><text transform="translate(919.9 1130.0) rotate(-90) scale(0.92 1)" font-size="16.0" text-anchor="end" fill="#000">W11</text><text transform="translate(942.5 1130.0) rotate(-90) scale(0.92 1)" font-size="16.0" text-anchor="end" fill="#000">W13</text><text transform="translate(965.0 1130.0) rotate(-90) scale(0.92 1)" font-size="16.0" text-anchor="end" fill="#000">W15</text><text transform="translate(987.6 1130.0) rotate(-90) scale(0.92 1)" font-size="16.0" text-anchor="end" fill="#000">W17</text><text transform="translate(1010.1 1130.0) rotate(-90) scale(0.92 1)" font-size="16.0" text-anchor="end" fill="#000">W19</text><text transform="translate(1032.7 1130.0) rotate(-90) scale(0.92 1)" font-size="16.0" text-anchor="end" fill="#000">W21</text><text transform="translate(1055.2 1130.0) rotate(-90) scale(0.92 1)" font-size="16.0" text-anchor="end" fill="#000">W23</text><text transform="translate(1077.8 1130.0) rotate(-90) scale(0.92 1)" font-size="16.0" text-anchor="end" fill="#000">W25</text><text transform="translate(1100.3 1130.0) rotate(-90) scale(0.92 1)" font-size="16.0" text-anchor="end" fill="#000">W27</text><text transform="translate(1122.9 1130.0) rotate(-90) scale(0.92 1)" font-size="16.0" text-anchor="end" fill="#000">W29</text><text transform="translate(1145.4 1130.0) rotate(-90) scale(0.92 1)" font-size="16.0" text-anchor="end" fill="#000">W31</text><text transform="translate(1168.0 1130.0) rotate(-90) scale(0.92 1)" font-size="16.0" text-anchor="end" fill="#000">W33</text><text transform="translate(1190.5 1130.0) rotate(-90) scale(0.92 1)" font-size="16.0" text-anchor="end" fill="#000">W35</text>
<text x="765.5" y="856.5" font-size="16.0" text-anchor="start" fill="#000">万吨</text>
<text x="1040.0" y="858.8" font-size="20.0" text-anchor="start" fill="#000">产能利用率</text>
<path d="M814.7 870.0L860.0 870.0" stroke="#F4C7C9" stroke-width="1.70" fill="none"/>
<text transform="translate(866.0 875.8) scale(0.92 1)" font-size="16.0" text-anchor="start" fill="#000">2019</text><text x="899.4" y="876.1" font-size="16.0" fill="#000">年</text>
<path d="M928.5 870.0L974.5 870.0" stroke="#808080" stroke-width="1.70" fill="none"/>
<text transform="translate(981.0 875.8) scale(0.92 1)" font-size="16.0" text-anchor="start" fill="#000">2020</text><text x="1014.4" y="876.1" font-size="16.0" fill="#000">年</text>
<path d="M1043.5 870.0L1088.8 870.0" stroke="#C00000" stroke-width="1.90" fill="none"/>
<text transform="translate(1095.0 875.8) scale(0.92 1)" font-size="16.0" text-anchor="start" fill="#000">2021</text><text x="1128.4" y="876.1" font-size="16.0" fill="#000">年</text>
<path d="M1157.8 870.0L1203.0 870.0" stroke="#000" stroke-width="1.90" fill="none"/>
<g fill="#BFBFBF"><rect x="121.5" y="1345.0" width="4.4" height="74.7"/><rect x="132.4" y="1355.1" width="4.4" height="64.6"/><rect x="143.2" y="1325.5" width="4.4" height="94.2"/><rect x="154.0" y="1283.4" width="4.4" height="136.3"/><rect x="164.9" y="1352.7" width="4.4" height="67.0"/><rect x="175.7" y="1327.1" width="4.4" height="92.6"/><rect x="186.5" y="1331.5" width="4.4" height="88.2"/><rect x="197.4" y="1349.4" width="4.4" height="70.3"/><rect x="208.2" y="1361.8" width="4.4" height="57.9"/><rect x="219.0" y="1377.0" width="4.4" height="42.7"/><rect x="229.9" y="1398.2" width="4.4" height="21.5"/><rect x="240.7" y="1409.6" width="4.4" height="10.1"/><rect x="251.6" y="1419.7" width="4.4" height="2.7"/><rect x="262.4" y="1419.7" width="4.4" height="8.8"/><rect x="273.2" y="1419.7" width="4.4" height="17.9"/><rect x="284.1" y="1419.7" width="4.4" height="34.0"/><rect x="294.9" y="1419.7" width="4.4" height="43.8"/><rect x="305.7" y="1419.7" width="4.4" height="44.8"/><rect x="316.6" y="1419.7" width="4.4" height="43.8"/></g>
<polyline points="123.7,1426.8 134.6,1426.8 145.4,1426.8 156.2,1426.5 167.1,1425.8 177.9,1425.8 188.7,1406.3 199.6,1405.6 210.4,1403.9 221.2,1402.2 232.1,1400.5 242.9,1399.9 253.8,1398.9 264.6,1398.2 275.4,1396.5 286.3,1398.9 297.1,1400.5 307.9,1402.2 318.8,1403.9 329.6,1409.0 340.4,1411.6 351.3,1413.0 362.1,1414.0 373.0,1417.4 383.8,1421.8 394.6,1421.8 405.5,1422.4 416.3,1422.4 427.1,1422.4 438.0,1422.4 448.8,1421.5 459.7,1421.5 470.5,1425.5 481.3,1429.1 492.2,1431.5 503.0,1433.9 513.8,1435.5 524.7,1433.9 535.5,1437.6 546.3,1437.6 557.2,1435.2 568.0,1440.0 578.9,1441.2 589.7,1444.2 600.5,1446.1 611.4,1446.1 622.2,1443.6 633.0,1443.6 643.9,1442.1 654.7,1442.1 665.5,1443.6 676.4,1443.6" fill="none" stroke="#F4C7C9" stroke-width="1.70" stroke-linejoin="round"/>
<polyline points="123.7,1439.9 134.6,1434.2 145.4,1428.5 156.2,1421.8 167.1,1395.5 177.9,1371.9 188.7,1345.0 199.6,1323.1 210.4,1306.3 221.2,1295.2 232.1,1290.4 242.9,1287.7 253.8,1286.1 264.6,1285.1 275.4,1282.7 286.3,1281.7 297.1,1288.4 307.9,1301.2 318.8,1319.7 329.6,1331.5 340.4,1346.7 351.3,1358.5 362.1,1365.2 373.0,1372.6 383.8,1378.0 394.6,1380.3 405.5,1379.1 416.3,1382.4 427.1,1386.7 438.0,1390.6 448.8,1396.7 459.7,1405.8 470.5,1417.0 481.3,1422.4 492.2,1420.9 503.0,1420.0 513.8,1419.7 524.7,1415.8 535.5,1414.2 546.3,1415.8 557.2,1413.0 568.0,1417.9 578.9,1421.8 589.7,1426.1 600.5,1427.9 611.4,1430.9 622.2,1437.6 633.0,1442.7 643.9,1445.2 654.7,1449.7 665.5,1452.7 676.4,1455.8" fill="none" stroke="#808080" stroke-width="1.70" stroke-linejoin="round"/>
<polyline points="123.7,1451.0 134.6,1443.3 145.4,1434.2 156.2,1426.5 167.1,1419.7 177.9,1410.6 188.7,1382.0 199.6,1392.1 210.4,1404.9 221.2,1418.0 232.1,1418.0 242.9,1419.0 253.8,1418.0 264.6,1420.7 275.4,1426.8 286.3,1431.9 297.1,1435.2 307.9,1436.6 318.8,1447.7 329.6,1454.4 340.4,1452.0 351.3,1449.4 362.1,1446.7 373.0,1439.9 383.8,1437.9 394.6,1437.6 405.5,1437.0 416.3,1439.1 427.1,1443.6 438.0,1446.1 448.8,1444.2 459.7,1439.1 470.5,1435.2 481.3,1432.1 492.2,1430.9 503.0,1429.7 513.8,1427.0 524.7,1417.9 535.5,1411.8 546.3,1398.8 557.2,1399.7 568.0,1399.7 578.9,1394.2 589.7,1390.6 600.5,1386.4 611.4,1386.1 622.2,1393.6 633.0,1401.2 643.9,1408.8 654.7,1410.9 665.5,1408.8 676.4,1405.8" fill="none" stroke="#000" stroke-width="1.90" stroke-linejoin="round"/>
<polyline points="123.7,1402.2 134.6,1402.2 145.4,1408.3 156.2,1409.6 167.1,1383.7 177.9,1394.8 188.7,1385.4 199.6,1377.0 210.4,1369.2 221.2,1363.5 232.1,1356.8 242.9,1352.4 253.8,1348.4 264.6,1345.0 275.4,1343.3 286.3,1340.9 297.1,1336.6 307.9,1335.6 318.8,1334.9 329.6,1333.2 340.4,1329.2 351.3,1328.1 362.1,1324.1 373.0,1321.4 383.8,1318.7 394.6,1318.0 405.5,1318.5 416.3,1317.9 427.1,1317.0 438.0,1317.0 448.8,1337.6 459.7,1337.6 470.5,1342.7 481.3,1337.6 492.2,1333.6 503.0,1329.4 513.8,1330.6 524.7,1338.8 535.5,1338.5 546.3,1336.7 557.2,1339.7 568.0,1337.9 578.9,1336.1 589.7,1333.9 600.5,1334.5 611.4,1335.8 622.2,1335.2 633.0,1335.2 643.9,1342.1 654.7,1345.2 665.5,1348.5 676.4,1351.8" fill="none" stroke="#C00000" stroke-width="1.90" stroke-linejoin="round"/>
<polyline points="123.7,1352.4 134.6,1356.8 145.4,1351.0 156.2,1327.5 167.1,1329.2 177.9,1324.8 188.7,1318.0 199.6,1316.4 210.4,1315.4 221.2,1322.1 232.1,1334.2 242.9,1342.3 253.8,1351.0 264.6,1355.1 275.4,1363.5 286.3,1379.3 297.1,1388.1 307.9,1388.8 318.8,1388.1" fill="none" stroke="#000" stroke-width="1.90" stroke-linejoin="round"/>
<g fill="#EB7B19" stroke="#1a0a00" stroke-width="1.7" stroke-linejoin="miter"><path d="M118.2 1352.4L123.7 1346.4L129.2 1352.4L123.7 1358.4Z"/><path d="M129.1 1356.8L134.6 1350.8L140.1 1356.8L134.6 1362.8Z"/><path d="M139.9 1351.0L145.4 1345.0L150.9 1351.0L145.4 1357.0Z"/><path d="M150.7 1327.5L156.2 1321.5L161.7 1327.5L156.2 1333.5Z"/><path d="M161.6 1329.2L167.1 1323.2L172.6 1329.2L167.1 1335.2Z"/><path d="M172.4 1324.8L177.9 1318.8L183.4 1324.8L177.9 1330.8Z"/><path d="M183.2 1318.0L188.7 1312.0L194.2 1318.0L188.7 1324.0Z"/><path d="M194.1 1316.4L199.6 1310.4L205.1 1316.4L199.6 1322.4Z"/><path d="M204.9 1315.4L210.4 1309.4L215.9 1315.4L210.4 1321.4Z"/><path d="M215.7 1322.1L221.2 1316.1L226.7 1322.1L221.2 1328.1Z"/><path d="M226.6 1334.2L232.1 1328.2L237.6 1334.2L232.1 1340.2Z"/><path d="M237.4 1342.3L242.9 1336.3L248.4 1342.3L242.9 1348.3Z"/><path d="M248.3 1351.0L253.8 1345.0L259.3 1351.0L253.8 1357.0Z"/><path d="M259.1 1355.1L264.6 1349.1L270.1 1355.1L264.6 1361.1Z"/><path d="M269.9 1363.5L275.4 1357.5L280.9 1363.5L275.4 1369.5Z"/><path d="M280.8 1379.3L286.3 1373.3L291.8 1379.3L286.3 1385.3Z"/><path d="M291.6 1388.1L297.1 1382.1L302.6 1388.1L297.1 1394.1Z"/><path d="M302.4 1388.8L307.9 1382.8L313.4 1388.8L307.9 1394.8Z"/><path d="M313.3 1388.1L318.8 1382.1L324.3 1388.1L318.8 1394.1Z"/></g>
<path d="M118.3 1238.0L118.3 1480.0" stroke="#000" stroke-width="2.00" fill="none"/>
<path d="M117.3 1479.5L682.8 1479.5" stroke="#000" stroke-width="2.00" fill="none"/>
<path d="M681.8 1238.0L681.8 1480.5" stroke="#000" stroke-width="2.00" fill="none"/>
<path d="M118.3 1239.0h4.5M118.3 1279.0h4.5M118.3 1319.0h4.5M118.3 1359.0h4.5M118.3 1399.0h4.5M118.3 1439.0h4.5" stroke="#000" stroke-width="1.9" fill="none"/>
<path d="M681.8 1239.0h-4.5M681.8 1299.2h-4.5M681.8 1359.5h-4.5M681.8 1419.7h-4.5" stroke="#000" stroke-width="1.9" fill="none"/>
<path d="M118.3 1479.5v-4.5M129.1 1479.5v-4.5M140.0 1479.5v-4.5M150.8 1479.5v-4.5M161.6 1479.5v-4.5M172.5 1479.5v-4.5M183.3 1479.5v-4.5M194.2 1479.5v-4.5M205.0 1479.5v-4.5M215.8 1479.5v-4.5M226.7 1479.5v-4.5M237.5 1479.5v-4.5M248.3 1479.5v-4.5M259.2 1479.5v-4.5M270.0 1479.5v-4.5M280.8 1479.5v-4.5M291.7 1479.5v-4.5M302.5 1479.5v-4.5M313.4 1479.5v-4.5M324.2 1479.5v-4.5M335.0 1479.5v-4.5M345.9 1479.5v-4.5M356.7 1479.5v-4.5M367.5 1479.5v-4.5M378.4 1479.5v-4.5M389.2 1479.5v-4.5M400.1 1479.5v-4.5M410.9 1479.5v-4.5M421.7 1479.5v-4.5M432.6 1479.5v-4.5M443.4 1479.5v-4.5M454.2 1479.5v-4.5M465.1 1479.5v-4.5M475.9 1479.5v-4.5M486.7 1479.5v-4.5M497.6 1479.5v-4.5M508.4 1479.5v-4.5M519.3 1479.5v-4.5M530.1 1479.5v-4.5M540.9 1479.5v-4.5M551.8 1479.5v-4.5M562.6 1479.5v-4.5M573.4 1479.5v-4.5M584.3 1479.5v-4.5M595.1 1479.5v-4.5M605.9 1479.5v-4.5M616.8 1479.5v-4.5M627.6 1479.5v-4.5M638.5 1479.5v-4.5M649.3 1479.5v-4.5M660.1 1479.5v-4.5M671.0 1479.5v-4.5M681.8 1479.5v-4.5" stroke="#000" stroke-width="1.9" fill="none"/>
<text transform="translate(102.3 1245.2) scale(0.92 1)" font-size="16.0" text-anchor="end" fill="#000">12000</text>
<text transform="translate(102.3 1285.2) scale(0.92 1)" font-size="16.0" text-anchor="end" fill="#000">10000</text>
<text transform="translate(102.3 1325.2) scale(0.92 1)" font-size="16.0" text-anchor="end" fill="#000">8000</text>
<text transform="translate(102.3 1365.2) scale(0.92 1)" font-size="16.0" text-anchor="end" fill="#000">6000</text>
<text transform="translate(102.3 1405.2) scale(0.92 1)" font-size="16.0" text-anchor="end" fill="#000">4000</text>
<text transform="translate(102.3 1445.2) scale(0.92 1)" font-size="16.0" text-anchor="end" fill="#000">2000</text>
<text transform="translate(102.3 1485.2) scale(0.92 1)" font-size="16.0" text-anchor="end" fill="#000">0</text>
<text transform="translate(698.3 1245.2) scale(0.92 1)" font-size="16.0" text-anchor="start" fill="#000">150%</text>
<text transform="translate(698.3 1305.4) scale(0.92 1)" font-size="16.0" text-anchor="start" fill="#000">100%</text>
<text transform="translate(698.3 1365.7) scale(0.92 1)" font-size="16.0" text-anchor="start" fill="#000">50%</text>
<text transform="translate(698.3 1425.9) scale(0.92 1)" font-size="16.0" text-anchor="start" fill="#000">0%</text>
<text transform="translate(698.3 1486.2) scale(0.92 1)" font-size="16.0" text-anchor="start" fill="#000">-50%</text>
<text transform="translate(128.9 1493.0) rotate(-90) scale(0.92 1)" font-size="16.0" text-anchor="end" fill="#000">W1</text><text transform="translate(150.6 1493.0) rotate(-90) scale(0.92 1)" font-size="16.0" text-anchor="end" fill="#000">W3</text><text transform="translate(172.3 1493.0) rotate(-90) scale(0.92 1)" font-size="16.0" text-anchor="end" fill="#000">W5</text><text transform="translate(193.9 1493.0) rotate(-90) scale(0.92 1)" font-size="16.0" text-anchor="end" fill="#000">W7</text><text transform="translate(215.6 1493.0) rotate(-90) scale(0.92 1)" font-size="16.0" text-anchor="end" fill="#000">W9</text><text transform="translate(237.3 1493.0) rotate(-90) scale(0.92 1)" font-size="16.0" text-anchor="end" fill="#000">W11</text><text transform="translate(259.0 1493.0) rotate(-90) scale(0.92 1)" font-size="16.0" text-anchor="end" fill="#000">W13</text><text transform="translate(280.6 1493.0) rotate(-90) scale(0.92 1)" font-size="16.0" text-anchor="end" fill="#000">W15</text><text transform="translate(302.3 1493.0) rotate(-90) scale(0.92 1)" font-size="16.0" text-anchor="end" fill="#000">W17</text><text transform="translate(324.0 1493.0) rotate(-90) scale(0.92 1)" font-size="16.0" text-anchor="end" fill="#000">W19</text><text transform="translate(345.6 1493.0) rotate(-90) scale(0.92 1)" font-size="16.0" text-anchor="end" fill="#000">W21</text><text transform="translate(367.3 1493.0) rotate(-90) scale(0.92 1)" font-size="16.0" text-anchor="end" fill="#000">W23</text><text transform="translate(389.0 1493.0) rotate(-90) scale(0.92 1)" font-size="16.0" text-anchor="end" fill="#000">W25</text><text transform="translate(410.7 1493.0) rotate(-90) scale(0.92 1)" font-size="16.0" text-anchor="end" fill="#000">W27</text><text transform="translate(432.3 1493.0) rotate(-90) scale(0.92 1)" font-size="16.0" text-anchor="end" fill="#000">W29</text><text transform="translate(454.0 1493.0) rotate(-90) scale(0.92 1)" font-size="16.0" text-anchor="end" fill="#000">W31</text><text transform="translate(475.7 1493.0) rotate(-90) scale(0.92 1)" font-size="16.0" text-anchor="end" fill="#000">W33</text><text transform="translate(497.4 1493.0) rotate(-90) scale(0.92 1)" font-size="16.0" text-anchor="end" fill="#000">W35</text><text transform="translate(519.0 1493.0) rotate(-90) scale(0.92 1)" font-size="16.0" text-anchor="end" fill="#000">W37</text><text transform="translate(540.7 1493.0) rotate(-90) scale(0.92 1)" font-size="16.0" text-anchor="end" fill="#000">W39</text><text transform="translate(562.4 1493.0) rotate(-90) scale(0.92 1)" font-size="16.0" text-anchor="end" fill="#000">W41</text><text transform="translate(584.1 1493.0) rotate(-90) scale(0.92 1)" font-size="16.0" text-anchor="end" fill="#000">W43</text><text transform="translate(605.7 1493.0) rotate(-90) scale(0.92 1)" font-size="16.0" text-anchor="end" fill="#000">W45</text><text transform="translate(627.4 1493.0) rotate(-90) scale(0.92 1)" font-size="16.0" text-anchor="end" fill="#000">W47</text><text transform="translate(649.1 1493.0) rotate(-90) scale(0.92 1)" font-size="16.0" text-anchor="end" fill="#000">W49</text><text transform="translate(670.7 1493.0) rotate(-90) scale(0.92 1)" font-size="16.0" text-anchor="end" fill="#000">W51</text>
<text x="77.0" y="1215.0" font-size="16.0" text-anchor="start" fill="#000">万重量箱</text>
<text x="368.3" y="1217.0" font-size="20.0" text-anchor="start" fill="#000">全国企业库存</text>
<rect x="193.2" y="1229.8" width="45.5" height="8.2" fill="#BFBFBF"/>
<text x="243.7" y="1239.8" font-size="16.0" text-anchor="start" fill="#000">同比</text>
<path d="M336.3 1234.0L381.8 1234.0" stroke="#F4C7C9" stroke-width="1.70" fill="none"/>
<text transform="translate(388.5 1239.5) scale(0.92 1)" font-size="16.0" text-anchor="start" fill="#000">2019</text><text x="421.9" y="1239.8" font-size="16.0" fill="#000">年</text>
<path d="M497.6 1234.5L542.4 1234.5" stroke="#808080" stroke-width="1.70" fill="none"/>
<text transform="translate(550.0 1240.0) scale(0.92 1)" font-size="16.0" text-anchor="start" fill="#000">2020</text><text x="583.4" y="1240.3" font-size="16.0" fill="#000">年</text>
<polyline points="797.9,1333.8 809.2,1327.1 820.6,1327.1 831.9,1327.1 843.3,1322.5 854.6,1332.0 865.9,1332.0 877.3,1332.0 888.6,1322.5 900.0,1327.1 911.3,1327.1 922.7,1327.1 934.0,1327.1 945.4,1327.1 956.7,1327.1 968.0,1320.3 979.4,1319.5 990.7,1314.6 1002.1,1310.8 1013.4,1312.0 1024.8,1312.0 1036.1,1310.8 1047.5,1302.9 1058.8,1302.5 1070.2,1295.0 1081.5,1286.3 1092.8,1278.0 1104.2,1278.0 1115.5,1278.0 1126.9,1278.0 1138.2,1278.0 1149.6,1275.0 1160.9,1270.9 1172.3,1276.9 1183.6,1281.1 1194.9,1281.1" fill="none" stroke="#C00000" stroke-width="1.90" stroke-linejoin="round"/>
<polyline points="797.9,1278.0 809.2,1279.5 820.6,1284.4 831.9,1284.4 843.3,1312.7 854.6,1307.1 865.9,1284.4 877.3,1284.4 888.6,1305.6 900.0,1290.1 911.3,1294.3 922.7,1294.6 934.0,1297.6 945.4,1297.6 956.7,1297.6 968.0,1297.6 979.4,1297.6 990.7,1299.2 1002.1,1299.9 1013.4,1291.2 1024.8,1290.9 1036.1,1287.8 1047.5,1287.1 1058.8,1289.7 1070.2,1286.7 1081.5,1305.6 1092.8,1304.8 1104.2,1312.0 1115.5,1317.6 1126.9,1316.5 1138.2,1312.7 1149.6,1312.7 1160.9,1322.5 1172.3,1315.7 1183.6,1325.2 1194.9,1327.1" fill="none" stroke="#000" stroke-width="1.90" stroke-linejoin="round"/>
<polyline points="797.9,1383.6 809.2,1386.6 820.6,1390.4 831.9,1390.4 843.3,1395.7 854.6,1386.6 865.9,1396.8 877.3,1401.7 888.6,1391.2 900.0,1388.1 911.3,1388.1 922.7,1381.7 934.0,1388.5 945.4,1381.7 956.7,1373.1 968.0,1373.1 979.4,1373.1 990.7,1362.9 1002.1,1354.6 1013.4,1361.0" fill="none" stroke="#000" stroke-width="1.90" stroke-linejoin="round"/>
<g fill="#EB7B19" stroke="#1a0a00" stroke-width="1.7" stroke-linejoin="miter"><path d="M792.4 1383.6L797.9 1377.6L803.4 1383.6L797.9 1389.6Z"/><path d="M803.7 1386.6L809.2 1380.6L814.7 1386.6L809.2 1392.6Z"/><path d="M815.1 1390.4L820.6 1384.4L826.1 1390.4L820.6 1396.4Z"/><path d="M826.4 1390.4L831.9 1384.4L837.4 1390.4L831.9 1396.4Z"/><path d="M837.8 1395.7L843.3 1389.7L848.8 1395.7L843.3 1401.7Z"/><path d="M849.1 1386.6L854.6 1380.6L860.1 1386.6L854.6 1392.6Z"/><path d="M860.4 1396.8L865.9 1390.8L871.4 1396.8L865.9 1402.8Z"/><path d="M871.8 1401.7L877.3 1395.7L882.8 1401.7L877.3 1407.7Z"/><path d="M883.1 1391.2L888.6 1385.2L894.1 1391.2L888.6 1397.2Z"/><path d="M894.5 1388.1L900.0 1382.1L905.5 1388.1L900.0 1394.1Z"/><path d="M905.8 1388.1L911.3 1382.1L916.8 1388.1L911.3 1394.1Z"/><path d="M917.2 1381.7L922.7 1375.7L928.2 1381.7L922.7 1387.7Z"/><path d="M928.5 1388.5L934.0 1382.5L939.5 1388.5L934.0 1394.5Z"/><path d="M939.9 1381.7L945.4 1375.7L950.9 1381.7L945.4 1387.7Z"/><path d="M951.2 1373.1L956.7 1367.1L962.2 1373.1L956.7 1379.1Z"/><path d="M962.5 1373.1L968.0 1367.1L973.5 1373.1L968.0 1379.1Z"/><path d="M973.9 1373.1L979.4 1367.1L984.9 1373.1L979.4 1379.1Z"/><path d="M985.2 1362.9L990.7 1356.9L996.2 1362.9L990.7 1368.9Z"/><path d="M996.6 1354.6L1002.1 1348.6L1007.6 1354.6L1002.1 1360.6Z"/><path d="M1007.9 1361.0L1013.4 1355.0L1018.9 1361.0L1013.4 1367.0Z"/></g>
<path d="M792.2 1235.7L792.2 1482.6" stroke="#000" stroke-width="2.00" fill="none"/>
<path d="M791.2 1481.6L1188.0 1481.6" stroke="#000" stroke-width="2.00" fill="none"/>
<path d="M792.2 1236.6h4.5M792.2 1271.6h4.5M792.2 1306.6h4.5M792.2 1341.6h4.5M792.2 1376.6h4.5M792.2 1411.6h4.5M792.2 1446.6h4.5" stroke="#000" stroke-width="1.9" fill="none"/>
<path d="M792.2 1481.6v-4.5M803.5 1481.6v-4.5M814.9 1481.6v-4.5M826.2 1481.6v-4.5M837.6 1481.6v-4.5M848.9 1481.6v-4.5M860.3 1481.6v-4.5M871.6 1481.6v-4.5M883.0 1481.6v-4.5M894.3 1481.6v-4.5M905.7 1481.6v-4.5M917.0 1481.6v-4.5M928.3 1481.6v-4.5M939.7 1481.6v-4.5M951.0 1481.6v-4.5M962.4 1481.6v-4.5M973.7 1481.6v-4.5M985.1 1481.6v-4.5M996.4 1481.6v-4.5M1007.8 1481.6v-4.5M1019.1 1481.6v-4.5M1030.4 1481.6v-4.5M1041.8 1481.6v-4.5M1053.1 1481.6v-4.5M1064.5 1481.6v-4.5M1075.8 1481.6v-4.5M1087.2 1481.6v-4.5M1098.5 1481.6v-4.5M1109.9 1481.6v-4.5M1121.2 1481.6v-4.5M1132.6 1481.6v-4.5M1143.9 1481.6v-4.5M1155.2 1481.6v-4.5M1166.6 1481.6v-4.5M1177.9 1481.6v-4.5M1189.3 1481.6v-4.5M1200.6 1481.6v-4.5" stroke="#000" stroke-width="1.9" fill="none"/>
<text transform="translate(773.2 1242.8) scale(0.92 1)" font-size="16.0" text-anchor="end" fill="#000">18</text>
<text transform="translate(773.2 1277.8) scale(0.92 1)" font-size="16.0" text-anchor="end" fill="#000">18</text>
<text transform="translate(773.2 1312.8) scale(0.92 1)" font-size="16.0" text-anchor="end" fill="#000">17</text>
<text transform="translate(773.2 1347.8) scale(0.92 1)" font-size="16.0" text-anchor="end" fill="#000">17</text>
<text transform="translate(773.2 1382.8) scale(0.92 1)" font-size="16.0" text-anchor="end" fill="#000">16</text>
<text transform="translate(773.2 1417.8) scale(0.92 1)" font-size="16.0" text-anchor="end" fill="#000">16</text>
<text transform="translate(773.2 1452.8) scale(0.92 1)" font-size="16.0" text-anchor="end" fill="#000">15</text>
<text transform="translate(773.2 1487.8) scale(0.92 1)" font-size="16.0" text-anchor="end" fill="#000">15</text>
<text transform="translate(803.1 1491.0) rotate(-90) scale(0.92 1)" font-size="16.0" text-anchor="end" fill="#000">W1</text><text transform="translate(825.8 1491.0) rotate(-90) scale(0.92 1)" font-size="16.0" text-anchor="end" fill="#000">W3</text><text transform="translate(848.5 1491.0) rotate(-90) scale(0.92 1)" font-size="16.0" text-anchor="end" fill="#000">W5</text><text transform="translate(871.1 1491.0) rotate(-90) scale(0.92 1)" font-size="16.0" text-anchor="end" fill="#000">W7</text><text transform="translate(893.8 1491.0) rotate(-90) scale(0.92 1)" font-size="16.0" text-anchor="end" fill="#000">W9</text><text transform="translate(916.5 1491.0) rotate(-90) scale(0.92 1)" font-size="16.0" text-anchor="end" fill="#000">W11</text><text transform="translate(939.2 1491.0) rotate(-90) scale(0.92 1)" font-size="16.0" text-anchor="end" fill="#000">W13</text><text transform="translate(961.9 1491.0) rotate(-90) scale(0.92 1)" font-size="16.0" text-anchor="end" fill="#000">W15</text><text transform="translate(984.6 1491.0) rotate(-90) scale(0.92 1)" font-size="16.0" text-anchor="end" fill="#000">W17</text><text transform="translate(1007.3 1491.0) rotate(-90) scale(0.92 1)" font-size="16.0" text-anchor="end" fill="#000">W19</text><text transform="translate(1030.0 1491.0) rotate(-90) scale(0.92 1)" font-size="16.0" text-anchor="end" fill="#000">W21</text><text transform="translate(1052.7 1491.0) rotate(-90) scale(0.92 1)" font-size="16.0" text-anchor="end" fill="#000">W23</text><text transform="translate(1075.4 1491.0) rotate(-90) scale(0.92 1)" font-size="16.0" text-anchor="end" fill="#000">W25</text><text transform="translate(1098.0 1491.0) rotate(-90) scale(0.92 1)" font-size="16.0" text-anchor="end" fill="#000">W27</text><text transform="translate(1120.7 1491.0) rotate(-90) scale(0.92 1)" font-size="16.0" text-anchor="end" fill="#000">W29</text><text transform="translate(1143.4 1491.0) rotate(-90) scale(0.92 1)" font-size="16.0" text-anchor="end" fill="#000">W31</text><text transform="translate(1166.1 1491.0) rotate(-90) scale(0.92 1)" font-size="16.0" text-anchor="end" fill="#000">W33</text><text transform="translate(1188.8 1491.0) rotate(-90) scale(0.92 1)" font-size="16.0" text-anchor="end" fill="#000">W35</text>
<text x="762.0" y="1213.3" font-size="16.0" text-anchor="start" fill="#000">万吨</text>
<text x="1038.0" y="1216.5" font-size="20.0" text-anchor="start" fill="#000">浮法日熔量</text>
<path d="M932.3 1227.0L977.5 1227.0" stroke="#C00000" stroke-width="1.90" fill="none"/>
<text transform="translate(983.0 1232.8) scale(0.92 1)" font-size="16.0" text-anchor="start" fill="#000">2021</text><text x="1016.4" y="1233.1" font-size="16.0" fill="#000">年</text>
<path d="M1068.8 1227.0L1114.0 1227.0" stroke="#000" stroke-width="1.90" fill="none"/>
<text transform="translate(1120.0 1232.8) scale(0.92 1)" font-size="16.0" text-anchor="start" fill="#000">2022</text><text x="1153.4" y="1233.1" font-size="16.0" fill="#000">年</text>
<polyline points="395.0,1681.2 440.0,1680.8 455.8,1680.0 464.8,1677.6 477.0,1677.6 486.0,1675.2 498.2,1673.6 510.3,1670.6 522.4,1670.6 534.5,1672.1 546.7,1667.6 583.0,1667.6 595.2,1657.0 607.3,1657.9 643.6,1657.9 655.8,1654.8 666.4,1651.8 680.0,1651.8 690.6,1645.8 704.2,1645.8 716.4,1637.6" fill="none" stroke="#C00000" stroke-width="1.90" stroke-linejoin="round"/>
<polyline points="101.6,1635.3 113.7,1633.3 125.8,1633.3 137.9,1633.3 150.0,1630.2 162.0,1630.2 174.1,1630.2 186.2,1631.6 198.3,1632.6 210.4,1630.9 222.4,1630.9 234.5,1626.5 246.6,1626.5 258.7,1628.2 270.8,1625.9 282.8,1625.9 294.9,1625.2 307.0,1621.8 319.1,1621.8 331.2,1621.8" fill="none" stroke="#000" stroke-width="1.90" stroke-linejoin="round"/>
<g fill="#EB7B19" stroke="#1a0a00" stroke-width="1.7" stroke-linejoin="miter"><path d="M96.1 1635.3L101.6 1629.3L107.1 1635.3L101.6 1641.3Z"/><path d="M108.2 1633.3L113.7 1627.3L119.2 1633.3L113.7 1639.3Z"/><path d="M120.3 1633.3L125.8 1627.3L131.3 1633.3L125.8 1639.3Z"/><path d="M132.4 1633.3L137.9 1627.3L143.4 1633.3L137.9 1639.3Z"/><path d="M144.5 1630.2L150.0 1624.2L155.5 1630.2L150.0 1636.2Z"/><path d="M156.5 1630.2L162.0 1624.2L167.5 1630.2L162.0 1636.2Z"/><path d="M168.6 1630.2L174.1 1624.2L179.6 1630.2L174.1 1636.2Z"/><path d="M180.7 1631.6L186.2 1625.6L191.7 1631.6L186.2 1637.6Z"/><path d="M192.8 1632.6L198.3 1626.6L203.8 1632.6L198.3 1638.6Z"/><path d="M204.9 1630.9L210.4 1624.9L215.9 1630.9L210.4 1636.9Z"/><path d="M216.9 1630.9L222.4 1624.9L227.9 1630.9L222.4 1636.9Z"/><path d="M229.0 1626.5L234.5 1620.5L240.0 1626.5L234.5 1632.5Z"/><path d="M241.1 1626.5L246.6 1620.5L252.1 1626.5L246.6 1632.5Z"/><path d="M253.2 1628.2L258.7 1622.2L264.2 1628.2L258.7 1634.2Z"/><path d="M265.3 1625.9L270.8 1619.9L276.3 1625.9L270.8 1631.9Z"/><path d="M277.3 1625.9L282.8 1619.9L288.3 1625.9L282.8 1631.9Z"/><path d="M289.4 1625.2L294.9 1619.2L300.4 1625.2L294.9 1631.2Z"/><path d="M301.5 1621.8L307.0 1615.8L312.5 1621.8L307.0 1627.8Z"/><path d="M313.6 1621.8L319.1 1615.8L324.6 1621.8L319.1 1627.8Z"/><path d="M325.7 1621.8L331.2 1615.8L336.7 1621.8L331.2 1627.8Z"/></g>
<path d="M95.6 1588.6L95.6 1680.0" stroke="#000" stroke-width="2.00" fill="none"/>
<path d="M95.6 1589.5h4.5M95.6 1638.5h4.5" stroke="#000" stroke-width="1.9" fill="none"/>
<text transform="translate(75.5 1594.8) scale(0.92 1)" font-size="16.0" text-anchor="end" fill="#000">10</text>
<text transform="translate(75.5 1643.8) scale(0.92 1)" font-size="16.0" text-anchor="end" fill="#000">8</text>
<text x="71.0" y="1570.0" font-size="16.0" text-anchor="start" fill="#000">万吨</text>
<text x="396.5" y="1564.5" font-size="20.0" text-anchor="start" fill="#000">光伏日熔</text>
<path d="M128.2 1588.8L173.0 1588.8" stroke="#DDCDB4" stroke-width="1.70" fill="none"/>
<text transform="translate(180.7 1594.6) scale(0.92 1)" font-size="16.0" text-anchor="start" fill="#000">2019</text><text x="214.1" y="1594.9" font-size="16.0" fill="#000">年</text>
<path d="M243.7 1588.8L290.8 1588.8" stroke="#E9CDD4" stroke-width="1.70" fill="none"/>
<text transform="translate(295.9 1594.6) scale(0.92 1)" font-size="16.0" text-anchor="start" fill="#000">2020</text><text x="329.3" y="1594.9" font-size="16.0" fill="#000">年</text>
<path d="M359.2 1588.8L407.0 1588.8" stroke="#000" stroke-width="1.90" fill="none"/>
<text transform="translate(411.6 1594.6) scale(0.92 1)" font-size="16.0" text-anchor="start" fill="#000">2021</text><text x="445.0" y="1594.9" font-size="16.0" fill="#000">年</text>
<path d="M474.7 1588.8L520.5 1588.8" stroke="#C00000" stroke-width="1.90" fill="none"/>
<text transform="translate(526.3 1594.6) scale(0.92 1)" font-size="16.0" text-anchor="start" fill="#000">2022</text><text x="559.7" y="1594.9" font-size="16.0" fill="#000">年</text>
<path d="M590.2 1588.8L635.7 1588.8" stroke="#000" stroke-width="1.90" fill="none"/>
<g fill="#EB7B19" stroke="#1a0a00" stroke-width="1.7" stroke-linejoin="miter"><path d="M608.2 1588.8L612.8 1583.7L617.4 1588.8L612.8 1593.9Z"/></g>
<text transform="translate(641.8 1594.6) scale(0.92 1)" font-size="16.0" text-anchor="start" fill="#000">2023</text><text x="675.2" y="1594.9" font-size="16.0" fill="#000">年</text>
<polyline points="936.1,1679.5 951.2,1678.8 962.5,1676.5 973.8,1671.2 988.9,1670.1 1000.2,1667.1 1008.5,1669.3 1020.9,1666.3 1041.7,1665.2 1053.0,1659.5 1064.3,1661.4 1076.3,1654.3 1086.9,1659.9 1098.2,1659.9 1109.5,1657.6 1120.8,1660.7 1132.2,1658.0 1143.5,1656.9 1154.8,1654.3 1166.1,1654.3 1177.4,1651.6 1188.0,1651.6" fill="none" stroke="#C00000" stroke-width="1.90" stroke-linejoin="round"/>
<polyline points="792.8,1638.8 804.2,1638.8 815.6,1638.8 827.0,1638.8 838.4,1634.3 849.7,1634.3 861.1,1638.8 872.5,1641.8 883.9,1639.5 895.3,1636.5 906.7,1635.0 918.1,1629.4 929.5,1630.5 940.9,1629.4 952.3,1623.7 963.6,1621.4 975.0,1621.4 986.4,1618.4 997.8,1614.7 1009.2,1617.3" fill="none" stroke="#000" stroke-width="1.90" stroke-linejoin="round"/>
<g fill="#EB7B19" stroke="#1a0a00" stroke-width="1.7" stroke-linejoin="miter"><path d="M787.3 1638.8L792.8 1632.8L798.3 1638.8L792.8 1644.8Z"/><path d="M798.7 1638.8L804.2 1632.8L809.7 1638.8L804.2 1644.8Z"/><path d="M810.1 1638.8L815.6 1632.8L821.1 1638.8L815.6 1644.8Z"/><path d="M821.5 1638.8L827.0 1632.8L832.5 1638.8L827.0 1644.8Z"/><path d="M832.9 1634.3L838.4 1628.3L843.9 1634.3L838.4 1640.3Z"/><path d="M844.2 1634.3L849.7 1628.3L855.2 1634.3L849.7 1640.3Z"/><path d="M855.6 1638.8L861.1 1632.8L866.6 1638.8L861.1 1644.8Z"/><path d="M867.0 1641.8L872.5 1635.8L878.0 1641.8L872.5 1647.8Z"/><path d="M878.4 1639.5L883.9 1633.5L889.4 1639.5L883.9 1645.5Z"/><path d="M889.8 1636.5L895.3 1630.5L900.8 1636.5L895.3 1642.5Z"/><path d="M901.2 1635.0L906.7 1629.0L912.2 1635.0L906.7 1641.0Z"/><path d="M912.6 1629.4L918.1 1623.4L923.6 1629.4L918.1 1635.4Z"/><path d="M924.0 1630.5L929.5 1624.5L935.0 1630.5L929.5 1636.5Z"/><path d="M935.4 1629.4L940.9 1623.4L946.4 1629.4L940.9 1635.4Z"/><path d="M946.8 1623.7L952.3 1617.7L957.8 1623.7L952.3 1629.7Z"/><path d="M958.1 1621.4L963.6 1615.4L969.1 1621.4L963.6 1627.4Z"/><path d="M969.5 1621.4L975.0 1615.4L980.5 1621.4L975.0 1627.4Z"/><path d="M980.9 1618.4L986.4 1612.4L991.9 1618.4L986.4 1624.4Z"/><path d="M992.3 1614.7L997.8 1608.7L1003.3 1614.7L997.8 1620.7Z"/><path d="M1003.7 1617.3L1009.2 1611.3L1014.7 1617.3L1009.2 1623.3Z"/></g>
<path d="M787.1 1588.2L787.1 1680.0" stroke="#000" stroke-width="2.00" fill="none"/>
<path d="M787.1 1589.0h4.5M787.1 1638.5h4.5" stroke="#000" stroke-width="1.9" fill="none"/>
<text transform="translate(771.0 1594.3) scale(0.92 1)" font-size="16.0" text-anchor="end" fill="#000">26</text>
<text transform="translate(771.0 1643.8) scale(0.92 1)" font-size="16.0" text-anchor="end" fill="#000">24</text>
<text x="760.7" y="1570.3" font-size="16.0" text-anchor="start" fill="#000">万吨</text>
<text x="1070.0" y="1565.0" font-size="20.0" text-anchor="start" fill="#000">玻璃总日熔</text>
<path d="M811.6 1586.0L857.6 1586.0" stroke="#F4C7C9" stroke-width="1.70" fill="none"/>
<text transform="translate(864.4 1591.8) scale(0.92 1)" font-size="16.0" text-anchor="start" fill="#000">2019</text><text x="897.8" y="1592.1" font-size="16.0" fill="#000">年</text>
<path d="M922.9 1586.0L968.9 1586.0" stroke="#DDCDB4" stroke-width="1.70" fill="none"/>
<text transform="translate(974.5 1591.8) scale(0.92 1)" font-size="16.0" text-anchor="start" fill="#000">2020</text><text x="1007.9" y="1592.1" font-size="16.0" fill="#000">年</text>
<path d="M1033.4 1586.0L1079.4 1586.0" stroke="#000" stroke-width="1.90" fill="none"/>
<text transform="translate(1085.0 1591.8) scale(0.92 1)" font-size="16.0" text-anchor="start" fill="#000">2021</text><text x="1118.4" y="1592.1" font-size="16.0" fill="#000">年</text>
<path d="M1144.2 1586.0L1190.0 1586.0" stroke="#C00000" stroke-width="1.90" fill="none"/>
</svg>
</div></body></html>
